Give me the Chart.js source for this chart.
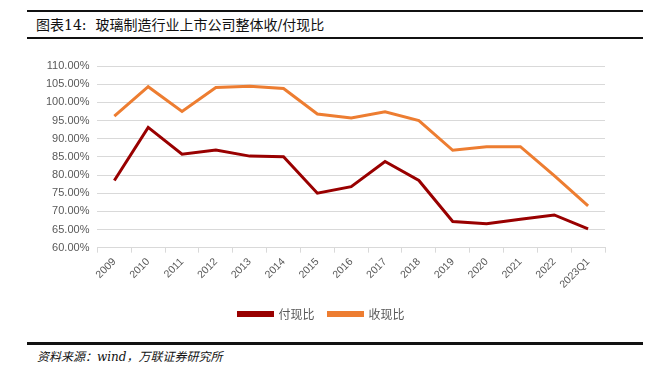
<!DOCTYPE html>
<html>
<head>
<meta charset="utf-8">
<script src="https://cdn.jsdelivr.net/npm/chart.js@4/dist/chart.umd.min.js"></script>
<style>
  html, body { margin: 0; padding: 0; background: #fff; }
  body { width: 662px; height: 385px; position: relative; overflow: hidden; }
  .rule { position: absolute; left: 27px; width: 616px; background: #111; }
  #title { position: absolute; left: 36px; top: 14px; font: 14px "DejaVu Serif", "Noto Sans CJK SC", serif; color: #111; }
  #source { position: absolute; left: 37px; top: 347px; font: italic 12px "DejaVu Serif", "Noto Sans CJK SC", serif; color: #111; }
  #wrap { position: absolute; left: 0; top: 42px; width: 662px; height: 296px; }
</style>
</head>
<body>
<div class="rule" style="top:10px;height:2px"></div>
<div id="title">图表14:&nbsp;&nbsp;玻璃制造行业上市公司整体收/付现比</div>
<div class="rule" style="top:37px;height:2px"></div>
<div id="wrap"><canvas id="c"></canvas></div>
<div class="rule" style="top:342px;height:3px"></div>
<div id="source">资料来源：wind，万联证券研究所</div>
<script>
const years = ["2009", "2010", "2011", "2012", "2013", "2014", "2015", "2016", "2017", "2018", "2019", "2020", "2021", "2022", "2023Q1"];
const payRatio = [78.5, 93.1, 85.7, 86.9, 85.2, 85.0, 75.0, 76.8, 83.7, 78.5, 67.2, 66.6, 67.8, 69.0, 65.2];
const receiveRatio = [96.2, 104.3, 97.5, 104.1, 104.4, 103.8, 96.8, 95.7, 97.4, 95.0, 86.8, 87.8, 87.8, 79.8, 71.5];

const darkRed = "#990000";
const orange = "#ed7d31";

new Chart(document.getElementById("c"), {
  type: "line",
  data: {
    labels: years,
    datasets: [
      { label: "付现比", data: payRatio, borderColor: darkRed, backgroundColor: darkRed, borderWidth: 3, pointRadius: 0, tension: 0 },
      { label: "收现比", data: receiveRatio, borderColor: orange, backgroundColor: orange, borderWidth: 3, pointRadius: 0, tension: 0 },
    ],
  },
  options: {
    responsive: true,
    maintainAspectRatio: false,
    animation: false,
    layout: { padding: { left: 38, right: 57, top: 24, bottom: 8 } },
    plugins: {
      legend: {
        position: "bottom",
        labels: {
          boxWidth: 34, boxHeight: 3, padding: 14,
          color: "#595959",
          font: { size: 12, family: "'Noto Sans CJK SC', sans-serif" },
        },
      },
      tooltip: { enabled: false },
    },
    scales: {
      y: {
        min: 60, max: 110,
        ticks: { stepSize: 5, color: "#595959", font: { size: 11, family: "'Liberation Sans', sans-serif" }, padding: 8, callback: (v) => v.toFixed(2) + "%" },
        grid: { color: "#d9d9d9", drawTicks: false },
        border: { display: false },
      },
      x: {
        offset: true,
        ticks: { color: "#595959", maxRotation: 45, minRotation: 45, font: { size: 10.5, family: "'Liberation Sans', sans-serif" } },
        grid: { display: true, drawOnChartArea: false, color: "#d9d9d9", tickLength: 5, offset: true },
        border: { color: "#d9d9d9" },
      },
    },
  },
});
</script>
</body>
</html>
